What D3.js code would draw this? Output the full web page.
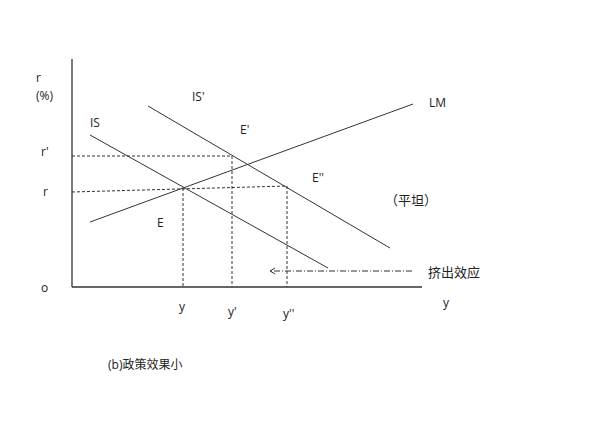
<!DOCTYPE html>
<html><head><meta charset="utf-8">
<script src="https://cdn.jsdelivr.net/npm/d3@7"></script>
<style>body{margin:0;background:#fff}text{font-family:"Open Sans","Noto Sans CJK SC",sans-serif;font-size:12px;fill:#222}</style>
</head><body><svg id="c" width="592" height="430"></svg>
<script>
// curves: [x1,y1,x2,y2] in model units
const curveNames=["IS","IS'","LM"];
const curveEnds=[[18,152,256,19],[76,181,318,39],[18,65,341,183]];
const equilibria=[{name:"E",x:111,y:99},{name:"E'",x:160,y:131},{name:"E''",x:215,y:101}];
const rLevels=[{label:"r'",y:131},{label:"r",y:95}];
const yTicks=[{label:"y",x:111},{label:"y'",x:160},{label:"y''",x:215}];
const crowd=[340,198,16];

const svg=d3.select("#c");
const x=d3.scaleLinear().domain([0,350]).range([72,422]);
const y=d3.scaleLinear().domain([0,230]).range([287,57]);
const g=svg.append("g").attr("stroke","#333").attr("fill","none");
g.append("line").attr("x1",x(0)).attr("x2",x(0)).attr("y1",y(228)).attr("y2",y(0)).attr("stroke-width",1.3);
g.append("line").attr("x1",x(0)).attr("x2",x(350)).attr("y1",y(0)).attr("y2",y(0)).attr("stroke-width",1.3);
curveEnds.forEach(c=>g.append("line").attr("x1",x(c[0])).attr("y1",y(c[1])).attr("x2",x(c[2])).attr("y2",y(c[3])).attr("stroke-width",1));
g.append("line").attr("x1",x(0)).attr("x2",x(160)).attr("y1",y(131)).attr("y2",y(131)).attr("stroke-dasharray","3,2");
g.append("line").attr("x1",x(0)).attr("x2",x(215)).attr("y1",y(95)).attr("y2",y(101)).attr("stroke-dasharray","3,2");
equilibria.forEach(e=>g.append("line").attr("x1",x(e.x)).attr("x2",x(e.x)).attr("y1",y(e.y)).attr("y2",y(0)).attr("stroke-dasharray","3,2"));
g.append("line").attr("x1",x(crowd[0])).attr("x2",x(crowd[1])).attr("y1",y(crowd[2])).attr("y2",y(crowd[2])).attr("stroke-dasharray","6,2,1,2");
g.append("path").attr("d",`M${x(crowd[1])+5},${y(crowd[2])-3}L${x(crowd[1])},${y(crowd[2])}L${x(crowd[1])+5},${y(crowd[2])+3}`);
const T=(t,px,py,s)=>svg.append("text").attr("x",px).attr("y",py).text(t).style("font-size",(s||12)+"px");
T("r",36,82);T("(%)",36,100,12);T("r'",41,156);T("r",43,196);T("o",41,292);
T("y",443,307);yTicks.forEach((t,i)=>T(t.label,x(t.x)-4,[311,316,318][i]));
T("IS",90,127);T("IS'",192,101);T("LM",429,107);
T("E'",240,134);T("E''",312,182);T("E",157,227);
T("（平坦）",385,205,13);T("挤出效应",428,277,13);T("(b)政策效果小",108,369);
</script></body></html>
